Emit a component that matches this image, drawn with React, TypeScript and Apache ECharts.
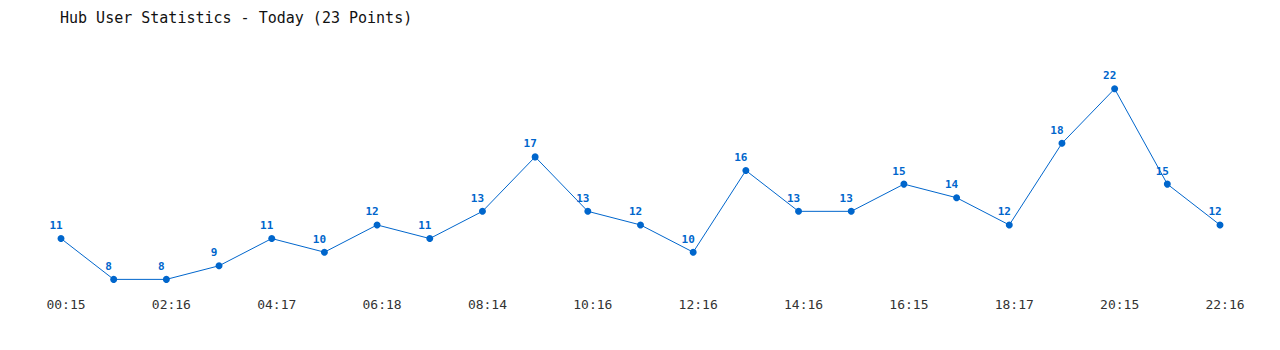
import React, { useEffect, useRef } from "react";
import * as echarts from "echarts";

const titleText = "Hub User Statistics - Today (23 Points)";
const times = [
  "00:15", "01:15", "02:16", "03:16", "04:17", "05:17", "06:18", "07:18",
  "08:14", "09:14", "10:16", "11:16", "12:16", "13:16", "14:16", "15:16",
  "16:15", "17:15", "18:17", "19:17", "20:15", "21:15", "22:16",
];
const users = [11, 8, 8, 9, 11, 10, 12, 11, 13, 17, 13, 12, 10, 16, 13, 13, 15, 14, 12, 18, 22, 15, 12];

const FONT = "'DejaVu Sans Mono', 'Liberation Mono', monospace";

export default function App() {
  const ref = useRef<HTMLDivElement>(null);
  useEffect(() => {
    if (!ref.current) return;
    const chart = echarts.init(ref.current, undefined, { renderer: "svg" });
    chart.setOption({
      animation: false,
      backgroundColor: "#ffffff",
      title: {
        text: titleText,
        left: 55,
        top: 5,
        textStyle: { fontFamily: FONT, fontSize: 15, fontWeight: "normal", color: "#111" },
      },
      grid: { left: 61, right: 60, top: 48, bottom: 57 },
      xAxis: {
        type: "category",
        data: times,
        boundaryGap: false,
        axisLine: { show: false },
        axisTick: { show: false },
        splitLine: { show: false },
        axisLabel: {
          interval: 1,
          margin: 5,
          padding: [0, 0, 0, 10],
          fontFamily: FONT,
          fontSize: 13,
          color: "#333",
        },
      },
      yAxis: {
        type: "value",
        min: 7,
        max: 25,
        show: false,
        splitLine: { show: false },
      },
      series: [
        {
          type: "line",
          data: users,
          color: "#0066cc",
          lineStyle: { width: 1, color: "#0066cc" },
          symbol: "circle",
          symbolSize: 7,
          itemStyle: { color: "#0066cc" },
          label: {
            show: true,
            position: "top",
            distance: 4,
            offset: [-5, 0],
            fontFamily: FONT,
            fontSize: 11,
            fontWeight: "bold",
            color: "#0066cc",
          },
        },
      ],
    });
    return () => chart.dispose();
  }, []);
  return (
    <div
      ref={ref}
      style={{ position: "fixed", left: 0, top: 0, width: 1280, height: 350, background: "#fff" }}
    />
  );
}
